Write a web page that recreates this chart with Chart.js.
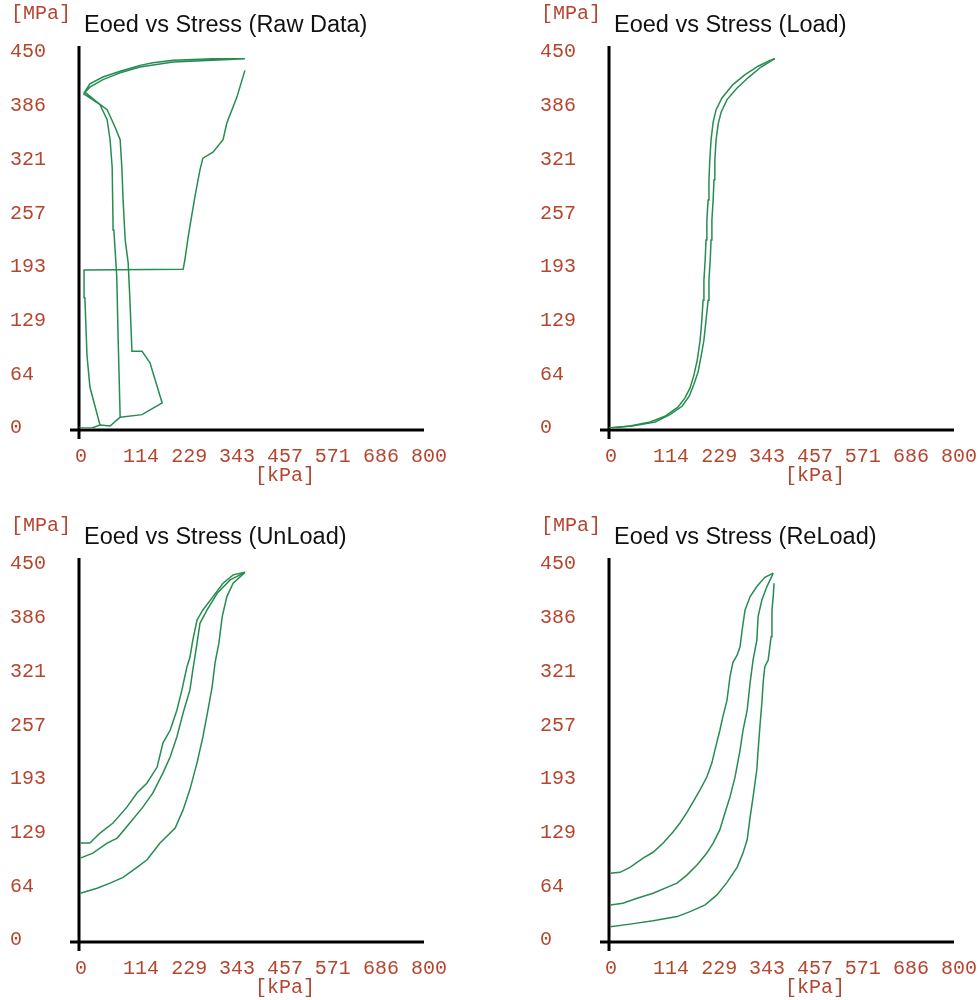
<!DOCTYPE html>
<html>
<head>
<meta charset="utf-8">
<script src="https://cdn.jsdelivr.net/npm/chart.js@4.4.1/dist/chart.umd.min.js"></script>
<style>
  body { margin: 0; background: #fff; }
  .panel { position: absolute; }
</style>
</head>
<body>
<div class="panel" style="left:0;top:0"><canvas id="raw" width="449" height="488"></canvas></div>
<div class="panel" style="left:530px;top:0"><canvas id="load" width="449" height="488"></canvas></div>
<div class="panel" style="left:0;top:512px"><canvas id="unload" width="449" height="488"></canvas></div>
<div class="panel" style="left:530px;top:512px"><canvas id="reload" width="449" height="488"></canvas></div>
<script>
// tick labels
const xTicks = [0, 114, 229, 343, 457, 571, 686, 800];
const yTicks = [0, 64, 129, 193, 257, 321, 386, 450];

// [stress kPa, Eoed MPa]
const rawOuter = [[0,0],[31,0],[50,3.6],[26,49],[19,87],[14,156],[12,189],[248,190],[252,201],[260,229],[276,277],[288,309],[295,323],[319,330],[343,345],[352,365],[376,396],[395,428]];
const rawInner = [[50,3.6],[74,2.4],[98,13],[93,111],[90,180],[83,237],[81,245],[79,312],[74,345],[67,369],[50,387],[26,395],[14,399],[12,401],[26,412],[57,420],[98,427],[145,434],[176,437],[224,440],[319,442],[395,442],[319,440],[224,438],[145,432],[98,425],[57,417],[26,408],[14,402],[43,390],[67,381],[86,360],[98,345],[102,312],[105,273],[110,225],[117,198],[121,156],[126,92],[150,92],[169,78],[198,30],[150,16],[98,13]];

const loadA = [[0,0],[50,2.4],[98,7.2],[133,14],[164,25],[181,36],[193,48],[202,63],[210,81],[217,105],[221,129],[224,153],[226,177],[229,201],[231,225],[233,249],[236,273],[238,297],[240,321],[243,345],[248,366],[255,381],[269,395],[295,411],[324,423],[355,433],[383,440],[395,442]];
const loadB = [[0,0],[55,2.4],[110,7.2],[145,16],[174,26],[191,38],[202,52],[212,67],[219,85],[226,105],[231,129],[236,153],[238,177],[241,201],[243,225],[245,249],[248,273],[250,297],[252,321],[255,345],[260,364],[267,378],[281,393],[305,407],[333,420],[362,432],[388,440],[395,442]];

const unload1 = [[3,116],[26,116],[50,128],[81,140],[114,159],[138,176],[162,188],[186,207],[200,236],[217,251],[233,275],[245,299],[257,327],[264,338],[271,359],[281,383],[295,395],[319,411],[343,427],[367,437],[395,440]];
const unload2 = [[3,98],[33,104],[67,116],[91,122],[121,140],[152,159],[176,176],[200,200],[217,219],[233,243],[248,272],[264,299],[271,323],[281,355],[288,379],[305,395],[329,415],[360,431],[395,440]];
const unload3 = [[3,56],[43,62],[74,68],[105,75],[138,87],[162,96],[193,116],[229,134],[248,156],[264,180],[281,212],[295,243],[307,275],[317,303],[324,332],[333,355],[341,387],[352,411],[367,427],[395,440]];

const reload1 = [[3,80],[26,81],[50,87],[81,98],[105,105],[129,116],[152,129],[169,140],[186,153],[200,165],[217,180],[233,195],[245,212],[252,227],[264,251],[271,267],[281,287],[288,315],[295,332],[305,341],[312,351],[317,371],[324,395],[336,411],[352,423],[371,434],[391,439]];
const reload2 = [[3,42],[33,44],[67,50],[105,56],[138,63],[162,68],[186,78],[210,90],[233,104],[248,116],[264,132],[276,152],[288,171],[300,195],[312,227],[319,251],[329,275],[336,308],[343,335],[352,359],[355,387],[364,407],[376,423],[391,439]];
const reload3 = [[3,16],[50,19],[105,23],[162,28],[193,34],[229,42],[257,54],[281,69],[305,87],[319,104],[329,120],[336,147],[343,171],[352,204],[355,227],[360,260],[364,284],[367,308],[371,327],[379,335],[386,363],[388,395],[391,411],[393,427]];

const lineColor = 'rgb(38,140,82)';
const labelColor = '#b4462f';
const mono = '"Liberation Mono", "Courier New", monospace';

// black axis cross + title and unit labels
const decor = {
  id: 'decor',
  beforeDatasetsDraw(chart) {
    const { ctx, chartArea: a } = chart;
    ctx.save();
    ctx.strokeStyle = '#000';
    ctx.lineWidth = 3;
    ctx.beginPath();
    ctx.moveTo(a.left, a.top - 6);
    ctx.lineTo(a.left, a.bottom + 11);
    ctx.moveTo(a.left - 9, a.bottom + 2);
    ctx.lineTo(a.right + 9, a.bottom + 2);
    ctx.stroke();
    ctx.restore();
  },
  afterDraw(chart) {
    const { ctx, chartArea: a } = chart;
    ctx.save();
    ctx.fillStyle = '#111';
    ctx.font = '23.5px "Liberation Sans", Arial, sans-serif';
    ctx.textBaseline = 'alphabetic';
    ctx.textAlign = 'left';
    ctx.fillText(chart.config.options.titleText, a.left + 5, 32);
    ctx.fillStyle = labelColor;
    ctx.font = '20px ' + mono;
    ctx.textBaseline = 'middle';
    ctx.fillText('[MPa]', 11, 14);
    ctx.textAlign = 'center';
    ctx.fillText('[kPa]', chart.scales.x.getPixelForValue(457) + 14, a.bottom + 48);
    ctx.restore();
  }
};

function makeChart(id, title, series) {
  new Chart(document.getElementById(id), {
    type: 'line',
    data: {
      datasets: series.map(s => ({
        data: s.map(p => ({ x: p[0], y: p[1] })),
        borderColor: lineColor,
        borderWidth: 1.5,
        pointRadius: 0,
        tension: 0,
        fill: false
      }))
    },
    options: {
      titleText: title,
      responsive: false,
      animation: false,
      layout: { padding: { left: 10, top: 52, right: 34, bottom: 0 } },
      plugins: { legend: { display: false }, tooltip: { enabled: false } },
      scales: {
        x: {
          type: 'linear', min: 0, max: 800,
          grid: { display: false }, border: { display: false },
          afterBuildTicks: s => { s.ticks = xTicks.map(v => ({ value: v })); },
          afterFit: s => { s.paddingLeft = 0; s.paddingRight = 0; s.height = 60; },
          ticks: {
            align: 'start', labelOffset: -4, padding: 9,
            autoSkip: false, maxRotation: 0,
            color: labelColor, font: { family: mono, size: 20 },
            callback: v => String(v)
          }
        },
        y: {
          type: 'linear', min: 0, max: 450,
          grid: { display: false }, border: { display: false },
          afterBuildTicks: s => { s.ticks = yTicks.map(v => ({ value: v })); },
          afterFit: s => { s.width = 69; s.paddingTop = 0; s.paddingBottom = 0; },
          ticks: {
            crossAlign: 'far', padding: 0, autoSkip: false,
            color: labelColor, font: { family: mono, size: 20 },
            callback: v => String(v)
          }
        }
      }
    },
    plugins: [decor]
  });
}

makeChart('raw', 'Eoed vs Stress (Raw Data)', [rawOuter, rawInner]);
makeChart('load', 'Eoed vs Stress (Load)', [loadA, loadB]);
makeChart('unload', 'Eoed vs Stress (UnLoad)', [unload1, unload2, unload3]);
makeChart('reload', 'Eoed vs Stress (ReLoad)', [reload1, reload2, reload3]);
</script>
</body>
</html>
